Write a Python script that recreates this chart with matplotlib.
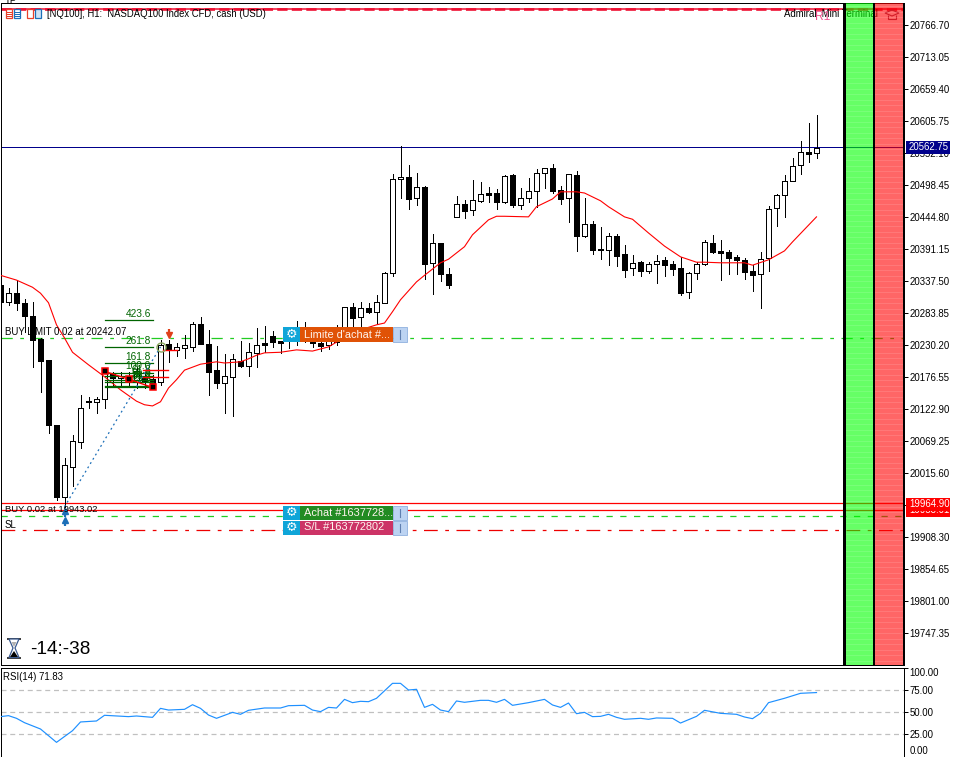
import matplotlib
matplotlib.use("Agg")
import matplotlib.pyplot as plt
import numpy as np
from matplotlib.patches import Rectangle, Polygon
from matplotlib.lines import Line2D
from matplotlib.transforms import Affine2D

opens = [20331,20302,20317,20301,20279,20240,20205,20096,19975,20026,20068,20136,20135,20140,20183,20175,20178,20168,20175,20173,
20168,20232,20222,20225,20227,20265,20232,20188,20166,20177,20203,20195,20217,20234,20245,20237,20239,20247,20249,20235,
20234,20230,20235,20244,20294,20277,20292,20286,20301,20351,20508,20512,20477,20495,20368,20401,20349,20445,20467,20457,
20472,20485,20485,20470,20515,20465,20477,20488,20519,20527,20490,20477,20515,20413,20433,20391,20389,20413,20383,20359,
20369,20354,20366,20373,20366,20359,20319,20351,20366,20401,20388,20386,20378,20373,20354,20349,20376,20460,20482,20505,
20532,20553,20552]
highs = [20334,20326,20339,20307,20302,20242,20205,20096,20041,20079,20146,20143,20143,20192,20185,20185,20185,20193,20185,20180,
20239,20239,20234,20247,20269,20277,20255,20229,20215,20215,20237,20234,20259,20262,20254,20237,20247,20270,20269,20247,
20247,20250,20264,20294,20301,20302,20301,20314,20353,20517,20564,20532,20519,20497,20416,20401,20359,20480,20473,20507,
20503,20495,20492,20515,20517,20493,20510,20525,20527,20534,20497,20517,20522,20477,20438,20428,20418,20416,20398,20381,
20371,20369,20381,20378,20371,20378,20353,20369,20406,20415,20406,20389,20381,20376,20364,20386,20463,20483,20515,20544,
20572,20602,20616]
lows = [20297,20297,20289,20252,20193,20151,20083,19970,19959,19994,20057,20125,20116,20125,20160,20160,20160,20158,20158,20158,
20163,20202,20212,20208,20220,20232,20146,20158,20116,20111,20193,20178,20193,20218,20227,20217,20225,20230,20235,20227,
20220,20223,20230,20239,20259,20260,20284,20265,20301,20346,20477,20458,20465,20341,20316,20337,20326,20445,20443,20448,
20470,20470,20458,20468,20462,20458,20470,20462,20493,20485,20467,20436,20388,20411,20383,20374,20364,20363,20344,20348,
20346,20351,20334,20346,20348,20314,20309,20341,20364,20384,20339,20349,20349,20341,20321,20292,20354,20430,20445,20505,
20517,20537,20544]
closes = [20302,20317,20301,20279,20239,20203,20096,19975,20029,20069,20125,20135,20140,20185,20175,20178,20170,20187,20170,20166,
20230,20222,20227,20230,20265,20232,20185,20166,20178,20207,20195,20218,20230,20230,20235,20234,20242,20252,20244,20234,
20229,20239,20247,20294,20275,20292,20286,20302,20351,20508,20512,20475,20495,20366,20401,20349,20331,20467,20455,20473,
20483,20482,20470,20514,20465,20477,20488,20519,20527,20488,20475,20517,20413,20433,20389,20389,20413,20379,20356,20368,
20354,20366,20371,20364,20358,20317,20351,20366,20403,20386,20384,20376,20373,20353,20348,20374,20458,20482,20505,20530,
20554,20551,20560]

ma_bars = [0,2,4,5,6,7,8,9,11,13,15,17,18,19,20,21,22,23,25,27,28,30,31,32,33,35,36,37,39,41,42,43,47,48,49,50,52,53,55,56,58,59,
61,62,63,66,67,69,70,72,73,75,76,78,79,81,83,85,87,88,90,93,94,96,98,99,102]
ma_vals = [20347,20339,20327,20317,20301,20264,20242,20218,20197,20177,20155,20136,20130,20128,20135,20158,20172,20188,20198,20202,20200,
20202,20207,20213,20217,20218,20220,20222,20220,20227,20235,20247,20264,20267,20286,20306,20336,20347,20368,20374,20395,20415,
20440,20446,20446,20445,20462,20475,20487,20487,20485,20472,20462,20445,20441,20418,20396,20378,20369,20369,20368,20368,20364,20373,20388,20403,20445]

rsi_bars = [0,1,2,3,5,7,9,10,12,13,16,17,19,20,21,23,24,25,26,27,29,30,31,33,35,36,38,39,40,41,42,43,44,45,46,47,49,50,51,52,53,54,55,56,57,58,
60,61,62,63,64,65,66,68,69,70,71,72,73,74,75,76,77,78,80,81,82,84,85,87,88,90,92,93,94,95,96,98,100,102]
rsi_vals = [44.8,45.9,42.9,38.0,30.9,15.9,29.0,38.8,39.9,46.3,44.8,45.5,44.0,54.1,52.2,53.0,58.2,54.1,46.6,42.9,49.6,47.4,51.9,54.5,54.5,57.1,57.5,52.2,50.4,55.2,54.5,64.2,60.5,62.0,61.6,65.4,82.2,82.2,74.7,75.5,55.2,58.6,52.2,50.4,62.4,60.9,
63.1,63.1,60.9,64.2,57.5,59.0,60.5,64.2,57.9,55.2,60.1,48.1,49.6,44.8,45.1,47.4,44.0,41.8,42.9,41.8,43.3,42.9,37.6,45.1,51.9,48.5,47.4,44.4,42.5,48.5,60.5,65.4,71.0,71.83]

price_ticks = [20766.70,20713.05,20659.40,20605.75,20552.10,20498.45,20444.80,20391.15,20337.50,20283.85,20230.20,20176.55,
20122.90,20069.25,20015.60,19961.95,19908.30,19854.65,19801.00,19747.35]
rsi_ticks = [0,25,50,75,100]
tp_level = 20793.5
bid_level = 20562.75
limit_level = 20242.07
pos_levels = [19964.90,19953.01]
buy_level = 19943.02
sl_level = 19919.5
fib_names = ["423.6","261.8","161.8","100.0","61.8","50.0","38.2","23.6"]
fib_prices = [20272,20226,20200,20184,20178,20172,20168,20162]
fib_base = 20159
zig_bars = [13,16,19]
zig_prices = [20186,20173,20159]
trade_bars = [8,20]
trade_prices = [19959,20227]

W, H = 958, 757
plt.rcParams['font.family'] = ['Liberation Sans', 'DejaVu Sans']
fig = plt.figure(figsize=(W/100, H/100), dpi=100, facecolor='white')
PX = Affine2D().scale(1, -1).translate(0, H)

def pp(y):            # pixel row <-> price scale of the terminal
    return 20808.6 - 1.6766*y

def axes_at(l, t, r, b):
    return fig.add_axes([l/W, (H-b)/H, (r-l)/W, (b-t)/H])

L, R, T, B = 1, 904, 3, 665
ax = axes_at(L, T, R, B)
ax.set_xlim((L-0.5)/8, (R-0.5)/8)
ax.set_ylim(pp(B), pp(T))
ax2 = axes_at(L, 667.5, R, 756.5)
ax2.set_xlim((L-0.5)/8, (R-0.5)/8)
ax2.set_ylim(0, 100)
TICK = 9.6*0.72
for a in (ax, ax2):
    a.set_xticks([])
    a.yaxis.tick_right()
    a.tick_params(axis='y', length=2.9, width=0.72, pad=1.2, labelsize=TICK, colors='black')
    for s in a.spines.values():
        s.set_linewidth(0.72)
ax.set_yticks(price_ticks)
ax.set_yticklabels([f"{v:.2f}" for v in price_ticks])
ax2.set_yticks(rsi_ticks)
ax2.set_yticklabels([f"{v:.2f}" for v in rsi_ticks])
for t, v in zip(ax2.get_yticklabels(), rsi_ticks):
    if v == 100:
        t.set_va('top')
    if v == 0:
        t.set_va('bottom')

# horizontal levels
ax.axhline(bid_level, color='#00008b', lw=0.72, zorder=2)
ax.axhline(limit_level, color='#22cc22', lw=0.9, dashes=(9, 6, 3, 6), zorder=2)
for v in pos_levels:
    ax.axhline(v, color='#ff0000', lw=0.9, zorder=2)
ax.axhline(buy_level, color='#22cc22', lw=0.9, dashes=(5, 6), zorder=2)
ax.axhline(sl_level, color='#ee0000', lw=0.9, dashes=(11, 6, 3, 6), zorder=2)
ax.axhline(tp_level, color='#ee1133', lw=1.1, zorder=2)
ax.axhline(tp_level+0.8, color='#ee1133', lw=1.9, dashes=(3.9, 1.6), zorder=2)

# candles
x = np.arange(len(opens))
o, h, l, c = map(np.array, (opens, highs, lows, closes))
ax.vlines(x, l, h, color='black', lw=0.72, antialiased=False, zorder=3)
up = c >= o
ax.bar(x[up], np.maximum(c-o, 1)[up], bottom=o[up], width=5/8, facecolor='white', edgecolor='black',
       linewidth=0.72, antialiased=False, zorder=4)
ax.bar(x[~up], np.maximum(o-c, 1)[~up], bottom=c[~up], width=5/8, facecolor='black', edgecolor='black',
       linewidth=0.72, antialiased=False, zorder=4)
ax.plot(ma_bars, ma_vals, color='#ff0000', lw=0.8, zorder=5)

# fibonacci + trade marks
xf = [(105-0.5)/8, (153-0.5)/8]
for n, v in zip(fib_names, fib_prices):
    ax.plot(xf, [v, v], color='#006400', lw=0.9, zorder=6)
    ax.text((151-0.5)/8, v+2, n, color='#006400', fontsize=7.3, ha='right', va='bottom', zorder=6)
ax.plot(xf, [fib_base, fib_base], color='#006400', lw=0.9, zorder=6)
ax.plot(trade_bars, trade_prices, color='#1c6fb8', lw=0.9, ls=(0, (1.5, 2.5)), zorder=6)
ax.plot(zig_bars, zig_prices, color='#ff0000', lw=1.0, marker='s', ms=4.2, mfc='black', mec='#ff0000', mew=1.1, zorder=7)
for y0, x0, x1 in ((370, 143, 168), (377, 143, 168), (350, 163, 177)):
    ax.plot([(x0-.5)/8, (x1-.5)/8], [pp(y0), pp(y0)], color='#ff0000', lw=1.0, zorder=6)
ax.plot([8, 8], [pp(511), pp(520)], ls='none', marker='^', ms=4.5, color='#1c6fb8', zorder=7)
ax.plot([8, 8], [pp(514), pp(523)], ls='none', marker='|', ms=4, mew=1.6, color='#1c6fb8', zorder=7)
ax.plot([21], [pp(335)], ls='none', marker='v', ms=4.5, color='#e0401a', zorder=7)
ax.plot([21], [pp(332)], ls='none', marker='|', ms=4, mew=1.6, color='#e0401a', zorder=7)
ax.plot([20], [pp(347)], ls='none', marker='o', ms=6.5, mfc='none', mec='#8aa860', mew=1, zorder=7)

# RSI
ax2.axhline(75, color='#c0c0c0', lw=0.9, dashes=(4, 3))
ax2.axhline(50, color='#c0c0c0', lw=0.9, dashes=(4, 3))
ax2.axhline(25, color='#c0c0c0', lw=0.9, dashes=(4, 3))
ax2.plot(rsi_bars, rsi_vals, color='#1e90ff', lw=0.85, zorder=3)

# ---- overlays in pixel coordinates
def rect(x0, y0, x1, y1, fc, z=10, alpha=None, ec='none', lw=0):
    fig.add_artist(Rectangle((x0, y0), x1-x0, y1-y0, transform=PX, facecolor=fc, edgecolor=ec,
                             linewidth=lw, alpha=alpha, zorder=z))
def text(x0, y0, s, color='black', size=9.6, ha='left', z=12, **kw):
    fig.text(x0, y0, s, transform=PX, color=color, fontsize=size*0.72, ha=ha, va='center', zorder=z, **kw)
def hline(x0, x1, y0, color, lw=1, z=11, alpha=None):
    fig.add_artist(Line2D([x0, x1], [y0, y0], transform=PX, color=color, lw=lw*0.72, zorder=z, alpha=alpha))

text(47, 14, "[NQ100], H1:  NASDAQ100 Index CFD, cash (USD)", size=9.55, z=8)
text(784, 14, "Admiral  Mini Terminal", size=9.6, z=8)
text(815, 17, "R1", color='#ee5590', size=12, z=8)
text(5, 332, "BUY LIMIT 0.02 at 20242.07", size=9.6, z=8)
text(5, 510, "BUY 0.02 at 19943.02", size=9.4, z=8)
text(5, 525, "SL", size=9.6, z=8)
text(5, 0.5, "TP", size=9.6, z=8)
text(3, 677, "RSI(14) 71.83", size=9.6, z=8)
text(30, 649, "-14:-38", size=19, z=8)

# bands
rect(845, T, 873, B, '#00ff00', z=9, alpha=0.6)
rect(875, T, 903, B, '#ff0000', z=9, alpha=0.6)
for yy in np.arange(T+3, B, 5.5):
    hline(845, 873, yy, 'white', 1, z=9.5, alpha=0.12)
    hline(875, 903, yy, 'white', 1, z=9.5, alpha=0.12)
rect(843, T, 845.5, B, 'black', z=10)
rect(872.5, T, 875, B, 'black', z=10)
rect(902.5, T, 904.5, B, 'black', z=10)

# price tags
for y0, s, bg in ((510, "19953.01", '#ff0000'), (504, "19964.90", '#ff0000'), (147.5, "20562.75", '#00008b')):
    rect(906, y0-6.5, 950, y0+6.5, bg, z=11 if s != "19964.90" else 12.5)
    text(909, y0, s, color='white', size=9.6, z=12 if s != "19964.90" else 12.6)

# order buttons
def button(y0, y1, bg, s):
    rect(283, y0, 300, y1, '#0fa5d8', z=13)
    rect(300, y0, 393, y1, bg, z=13)
    rect(393, y0, 407, y1, '#bcd3f2', z=13, ec='#8fb0de', lw=0.6)
    fig.add_artist(Line2D([400, 400], [y0+3, y1-3], transform=PX, color='#5f7fb0', lw=0.8, zorder=14))
    text(291.5, (y0+y1)/2, "\u2699", color='white', size=13, ha='center', z=14, family='DejaVu Sans')
    text(304, (y0+y1)/2, s, color='#fff4ee', size=11, z=14)
button(327, 342, '#e05206', "Limite d'achat #...")
button(505.5, 520, '#228b22', "Achat #1637728...")
button(520.5, 534.5, '#cc3366', "S/L #163772802")

# small icons
rect(5.5, 9, 11.5, 18, 'white', z=8, ec='#e8402a', lw=0.9)
rect(13.5, 9, 19.5, 18, 'white', z=8, ec='#1c6fb8', lw=0.9)
for yy in (11.5, 13.5, 15.5):
    hline(6, 11, yy, '#e8402a', 1, z=8)
    hline(14, 19, yy, '#1c6fb8', 1, z=8)
rect(26.5, 9, 32.5, 18, 'white', z=8, ec='#e8402a', lw=0.9)
rect(34.5, 9, 40.5, 18, '#cfe3f5', z=8, ec='#1c6fb8', lw=0.9)
fig.add_artist(Polygon([(885, 13), (892, 10), (899, 13), (892, 16)], closed=True, transform=PX, fc='none', ec='#8a4560', lw=0.8, zorder=8))
fig.add_artist(Polygon([(888, 15), (888, 19), (896, 19), (896, 15)], closed=False, transform=PX, fc='none', ec='#8a4560', lw=0.8, zorder=8))

# hourglass
for yy in (638.5, 658):
    hline(8, 20, yy, '#404040', 2, z=8)
fig.add_artist(Polygon([(9, 639), (19, 639), (15, 648), (19, 657.5), (9, 657.5), (13, 648)], closed=True, transform=PX,
                       fc='white', ec='#3a5a90', lw=0.9, zorder=8))
fig.add_artist(Polygon([(10, 657), (18, 657), (14, 651)], closed=True, transform=PX, fc='black', ec='none', zorder=8))
fig.add_artist(Polygon([(11.5, 642), (16.5, 642), (14, 647)], closed=True, transform=PX, fc='#b0b0b0', ec='none', zorder=8))

fig.savefig('out.png', dpi=100, facecolor='white')
